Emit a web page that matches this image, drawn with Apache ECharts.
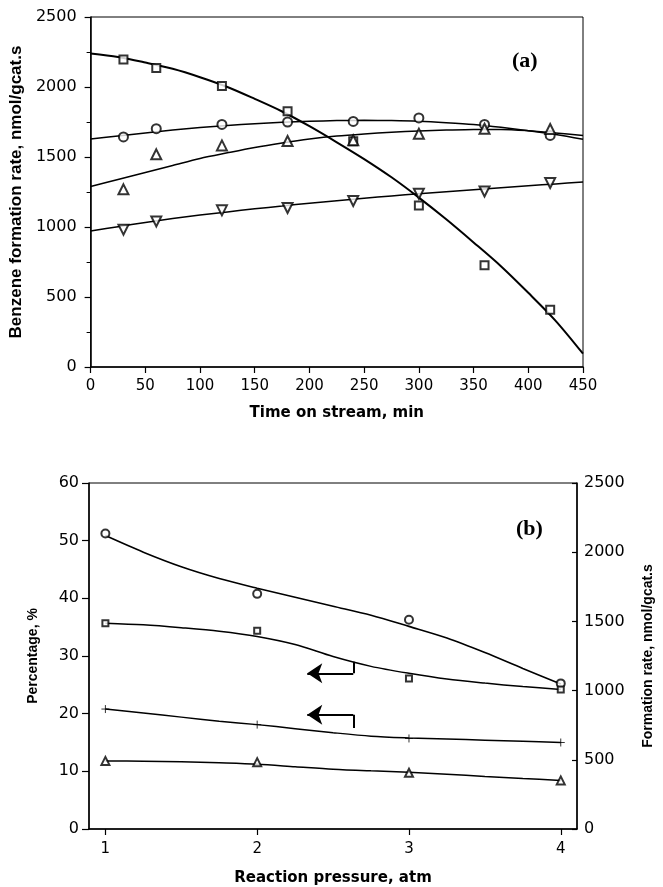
<!DOCTYPE html>
<html>
<head>
<meta charset="utf-8">
<script src="https://cdn.jsdelivr.net/npm/echarts@6/dist/echarts.min.js"></script>
<style>
html,body{margin:0;padding:0;background:#fff;}
#chart{width:663px;height:887px;}
</style>
</head>
<body>
<div id="chart"></div>
<script>
// ---------- Panel (a): benzene formation rate vs time on stream ----------
const timeMin = [30, 60, 120, 180, 240, 300, 360, 420];
const squareA = [2197, 2136, 2007, 1826, 1612, 1154, 726, 409];
const circleA = [1643, 1702, 1733, 1750, 1754, 1779, 1733, 1654];
const triUpA = [1269, 1519, 1583, 1614, 1619, 1666, 1702, 1700];
const triDownA = [981, 1040, 1119, 1136, 1186, 1238, 1254, 1314];

// fitted curves
const fitTime = [0, 25, 50, 75, 100, 125, 150, 175, 200, 225, 250, 275, 300, 325, 350, 375, 400, 425, 450];
const squareFitA = [2240, 2215, 2175, 2130, 2070, 2000, 1915, 1825, 1720, 1605, 1485, 1355, 1210, 1055, 890, 720, 530, 330, 95];
const circleFitA = [1628, 1650, 1672, 1692, 1710, 1725, 1738, 1748, 1755, 1760, 1762, 1760, 1755, 1745, 1732, 1712, 1688, 1660, 1626];
const triUpFitA = [1290, 1340, 1390, 1440, 1490, 1530, 1568, 1600, 1628, 1650, 1665, 1677, 1685, 1692, 1697, 1697, 1688, 1672, 1654];
const triDownFitA = [971, 1002, 1032, 1060, 1085, 1108, 1130, 1150, 1170, 1188, 1205, 1222, 1238, 1252, 1266, 1280, 1294, 1308, 1321];

// ---------- Panel (b): vs reaction pressure ----------
const pressure = [1, 2, 3, 4];
const circleB = [2135, 1699, 1512, 1052];   // formation rate (right axis)
const triB = [492, 483, 406, 351];          // formation rate (right axis)
const squareB = [35.7, 34.4, 26.1, 24.2];   // percentage (left axis)
const plusB = [20.8, 18.1, 15.7, 15.0];     // percentage (left axis)

const fitP = [1, 1.25, 1.5, 1.75, 2, 2.25, 2.5, 2.75, 3, 3.25, 3.5, 3.75, 4];
const circleFitB = [2120, 2000, 1895, 1810, 1740, 1675, 1610, 1545, 1464, 1380, 1275, 1160, 1048];
const triFitB = [492, 490, 486, 478, 468, 450, 432, 420, 410, 396, 380, 365, 351];
const squareFitB = [35.7, 35.4, 34.9, 34.3, 33.4, 32.0, 29.9, 28.2, 27.0, 26.0, 25.3, 24.7, 24.2];
const plusFitB = [20.8, 20.1, 19.4, 18.7, 18.1, 17.4, 16.7, 16.1, 15.8, 15.6, 15.4, 15.2, 15.0];

// arrows (data coords, left axis): stem start, corner, tip
const arrowSquare = [[2.633, 29.0], [2.633, 27.0], [2.33, 27.0]];
const arrowPlus = [[2.633, 17.5], [2.633, 19.8], [2.33, 19.8]];

const pressureTicks = [1, 2, 3, 4];

const zip = (xs, ys) => xs.map((x, i) => [x, ys[i]]);
const plain = v => String(v);
const tickFont = {fontFamily: 'DejaVu Sans', fontSize: 15, color: '#000', formatter: plain};
const xTitleFont = {fontFamily: 'DejaVu Sans', fontWeight: 'bold', fontSize: 15, color: '#000'};
const black = '#000';

function fitLine(name, x, y, xi, yi, w) {
  return {name, type: 'line', xAxisIndex: xi, yAxisIndex: yi, data: zip(x, y),
    smooth: 0.3, symbol: 'none', lineStyle: {color: black, width: w || 1.5}, z: 2, silent: true};
}
function pts(name, x, y, xi, yi, symbol, size, rot) {
  return {name, type: 'scatter', xAxisIndex: xi, yAxisIndex: yi, data: zip(x, y),
    symbol, symbolSize: size, symbolRotate: rot || 0,
    itemStyle: {color: black, borderColor: black, borderWidth: 1}, z: 5, silent: true};
}
function arrow(name, a) {
  return {name, type: 'line', xAxisIndex: 1, yAxisIndex: 1, data: [], silent: true,
    markLine: {silent: true, animation: false, label: {show: false},
      lineStyle: {color: black, width: 2, type: 'solid'},
      symbolSize: 15,
      data: [
        [{coord: a[0], symbol: 'none'}, {coord: a[1], symbol: 'none'}],
        [{coord: a[1], symbol: 'none'}, {coord: a[2], symbol: 'arrow'}]
      ]}};
}

const chart = echarts.init(document.getElementById('chart'), null, {renderer: 'canvas'});
chart.setOption({
  backgroundColor: '#fff',
  animation: false,
  grid: [
    {left: 88, top: 17, width: 495, height: 350, show: true, borderColor: black, borderWidth: 1, backgroundColor: 'transparent'},
    {left: 89, top: 483, width: 497, height: 348, show: true, borderColor: black, borderWidth: 1, backgroundColor: 'transparent'}
  ],
  xAxis: [
    {type: 'value', gridIndex: 0, min: 0, max: 450, interval: 50,
      axisLine: {show: true, lineStyle: {color: black, width: 1.5}},
      axisTick: {show: true, inside: false, length: 6, lineStyle: {color: black, width: 1.2}},
      splitLine: {show: false},
      axisLabel: Object.assign({margin: 12}, tickFont),
      name: 'Time on stream, min', nameLocation: 'middle', nameGap: 39, nameTextStyle: xTitleFont},
    {type: 'value', gridIndex: 1, min: 0.892, max: 4.107,
      axisLine: {show: true, lineStyle: {color: black, width: 1.5}},
      axisTick: {show: true, inside: false, length: 6, customValues: pressureTicks, lineStyle: {color: black, width: 1.2}},
      splitLine: {show: false},
      axisLabel: Object.assign({margin: 13, customValues: pressureTicks}, tickFont),
      name: 'Reaction pressure, atm', nameLocation: 'middle', nameGap: 42, nameTextStyle: xTitleFont}
  ],
  yAxis: [
    {type: 'value', gridIndex: 0, min: 0, max: 2500, interval: 500,
      axisLine: {show: true, lineStyle: {color: black, width: 1.5}},
      axisTick: {show: true, inside: false, length: 6, lineStyle: {color: black, width: 1.2}},
      minorTick: {show: true, splitNumber: 2, length: 4, lineStyle: {color: black, width: 1}},
      splitLine: {show: false},
      axisLabel: Object.assign({margin: 14}, tickFont, {fontSize: 16}),
      name: 'Benzene formation rate, nmol/gcat.s', nameLocation: 'middle', nameRotate: 90, nameGap: 63,
      nameTextStyle: {fontFamily: 'Liberation Sans', fontWeight: 'bold', fontSize: 17, color: black}},
    {type: 'value', gridIndex: 1, min: 0, max: 60, interval: 10,
      axisLine: {show: true, lineStyle: {color: black, width: 1.5}},
      axisTick: {show: true, inside: false, length: 7, lineStyle: {color: black, width: 1.2}},
      splitLine: {show: false},
      axisLabel: Object.assign({margin: 10}, tickFont, {fontSize: 16}),
      name: 'Percentage, %', nameLocation: 'middle', nameRotate: 90, nameGap: 49,
      nameTextStyle: {fontFamily: 'Liberation Sans', fontWeight: 'bold', fontSize: 14, color: black}},
    {type: 'value', gridIndex: 1, position: 'right', min: 0, max: 2500, interval: 500,
      axisLine: {show: true, lineStyle: {color: black, width: 1.5}},
      axisTick: {show: true, inside: true, length: 5, lineStyle: {color: black, width: 1.2}},
      splitLine: {show: false},
      axisLabel: Object.assign({margin: 7}, tickFont, {fontSize: 16}),
      name: 'Formation rate, nmol/gcat.s', nameLocation: 'middle', nameRotate: 90, nameGap: 64,
      nameTextStyle: {fontFamily: 'Liberation Sans', fontWeight: 'bold', fontSize: 14, color: black}}
  ],
  graphic: [
    {type: 'text', left: 512, top: 50, style: {text: '(a)', font: 'bold 22px "Liberation Serif"', fill: black}},
    {type: 'text', left: 516, top: 518, style: {text: '(b)', font: 'bold 22px "Liberation Serif"', fill: black}}
  ],
  series: [
    fitLine('sqFitA', fitTime, squareFitA, 0, 0, 2),
    fitLine('ciFitA', fitTime, circleFitA, 0, 0, 1.5),
    fitLine('tuFitA', fitTime, triUpFitA, 0, 0, 1.5),
    fitLine('tdFitA', fitTime, triDownFitA, 0, 0, 1.5),
    pts('squareA', timeMin, squareA, 0, 0, 'emptyRect', 8),
    pts('circleA', timeMin, circleA, 0, 0, 'emptyCircle', 9),
    pts('triUpA', timeMin, triUpA, 0, 0, 'emptyTriangle', 10),
    pts('triDownA', timeMin, triDownA, 0, 0, 'emptyTriangle', 10, 180),

    fitLine('ciFitB', fitP, circleFitB, 1, 2, 1.6),
    fitLine('trFitB', fitP, triFitB, 1, 2, 1.5),
    fitLine('sqFitB', fitP, squareFitB, 1, 1, 1.5),
    fitLine('plFitB', fitP, plusFitB, 1, 1, 1.5),
    pts('circleB', pressure, circleB, 1, 2, 'emptyCircle', 8),
    pts('triB', pressure, triB, 1, 2, 'emptyTriangle', 8),
    pts('squareB', pressure, squareB, 1, 1, 'emptyRect', 6),
    pts('plusB', pressure, plusB, 1, 1, 'path://M0,5L10,5M5,0L5,10', 8),
    arrow('arrowSquare', arrowSquare),
    arrow('arrowPlus', arrowPlus)
  ]
});
</script>
</body>
</html>
